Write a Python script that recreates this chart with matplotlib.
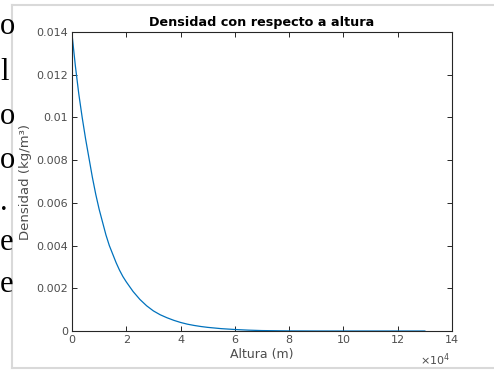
import matplotlib
matplotlib.use("Agg")
import matplotlib.pyplot as plt
from matplotlib.lines import Line2D

# Data
altura = [0, 1250, 2500, 3750, 5000, 6250, 7500, 8750, 10000, 11250, 12500, 13750,
          15000, 16250, 17500, 18750, 20000, 22500, 25000, 27500, 30000, 32500,
          35000, 37500, 40000, 42500, 45000, 47500, 50000, 55000, 60000, 65000,
          70000, 80000, 90000, 100000, 110000, 120000, 130000]
densidad = [0.0139, 0.0124, 0.0111, 0.0100, 0.0090, 0.0081, 0.0072, 0.0064, 0.0057,
            0.0051, 0.0045, 0.0040, 0.0036, 0.0032, 0.00285, 0.00255, 0.00230, 0.00185,
            0.00148, 0.00118, 0.00094, 0.00076, 0.00062, 0.00050, 0.00040, 0.00032,
            0.00026, 0.00021, 0.00017, 0.00011, 0.00007, 0.00004, 0.00002, 0.000005,
            0.000001, 0.0, 0.0, 0.0, 0.0]
xticks = [0, 2, 4, 6, 8, 10, 12, 14]
yticks = [0, 0.002, 0.004, 0.006, 0.008, 0.01, 0.012, 0.014]
ytick_labels = ["0", "0.002", "0.004", "0.006", "0.008", "0.01", "0.012", "0.014"]
side_text = ["o", "l", "o", "o", ".", "e", "e"]

W, H = 494, 372
fig = plt.figure(figsize=(W / 100, H / 100), dpi=100)
fig.patch.set_facecolor("white")

# light gray frame of the screenshot
frame_c = "#d9d9d9"
fig.add_artist(Line2D([12 / W, 1.0], [1 - 5 / H, 1 - 5 / H], color=frame_c, lw=1.5))
fig.add_artist(Line2D([12 / W, 1.0], [1 - 368 / H, 1 - 368 / H], color=frame_c, lw=1.5))
fig.add_artist(Line2D([12 / W, 12 / W], [1 - 5 / H, 1 - 368 / H], color=frame_c, lw=1.5))

# serif text fragments at the left
side_y = [27, 72, 117, 160, 203, 243, 285]
for t, yy in zip(side_text, side_y):
    fig.text(0 / W, 1 - yy / H, t, family="Liberation Serif", fontsize=22,
             ha="left", va="center", color="black")

ax = fig.add_axes([72 / W, 1 - 331 / H, (452 - 72) / W, (331 - 32) / H])
ax.plot([a / 1e4 for a in altura], densidad, color="#0072BD", lw=0.9)
ax.set_xlim(0, 14)
ax.set_ylim(0, 0.014)
ax.set_xticks(xticks)
ax.set_xticklabels([str(v) for v in xticks])
ax.set_yticks(yticks)
ax.set_yticklabels(ytick_labels)

gray = "#262626"
for s in ax.spines.values():
    s.set_color(gray)
    s.set_linewidth(0.8)
ax.tick_params(direction="in", length=3.5, width=0.7, colors=gray, labelsize=8,
               top=True, right=True, pad=3)
for lab in ax.get_xticklabels() + ax.get_yticklabels():
    lab.set_color("#4d4d4d")

ax.set_title("Densidad con respecto a altura", fontsize=9.2, fontweight="bold",
             color="black", pad=4)
ax.set_xlabel("Altura (m)", fontsize=9, color="#4d4d4d", labelpad=2)
ax.set_ylabel("Densidad (kg/m³)", fontsize=9.5, color="#4d4d4d", labelpad=3)
fig.text(435 / W, 1 - 360 / H, r"$\times10^4$", fontsize=8, color="#4d4d4d",
         ha="center", va="center")

fig.savefig("out.png", dpi=100, facecolor="white")
